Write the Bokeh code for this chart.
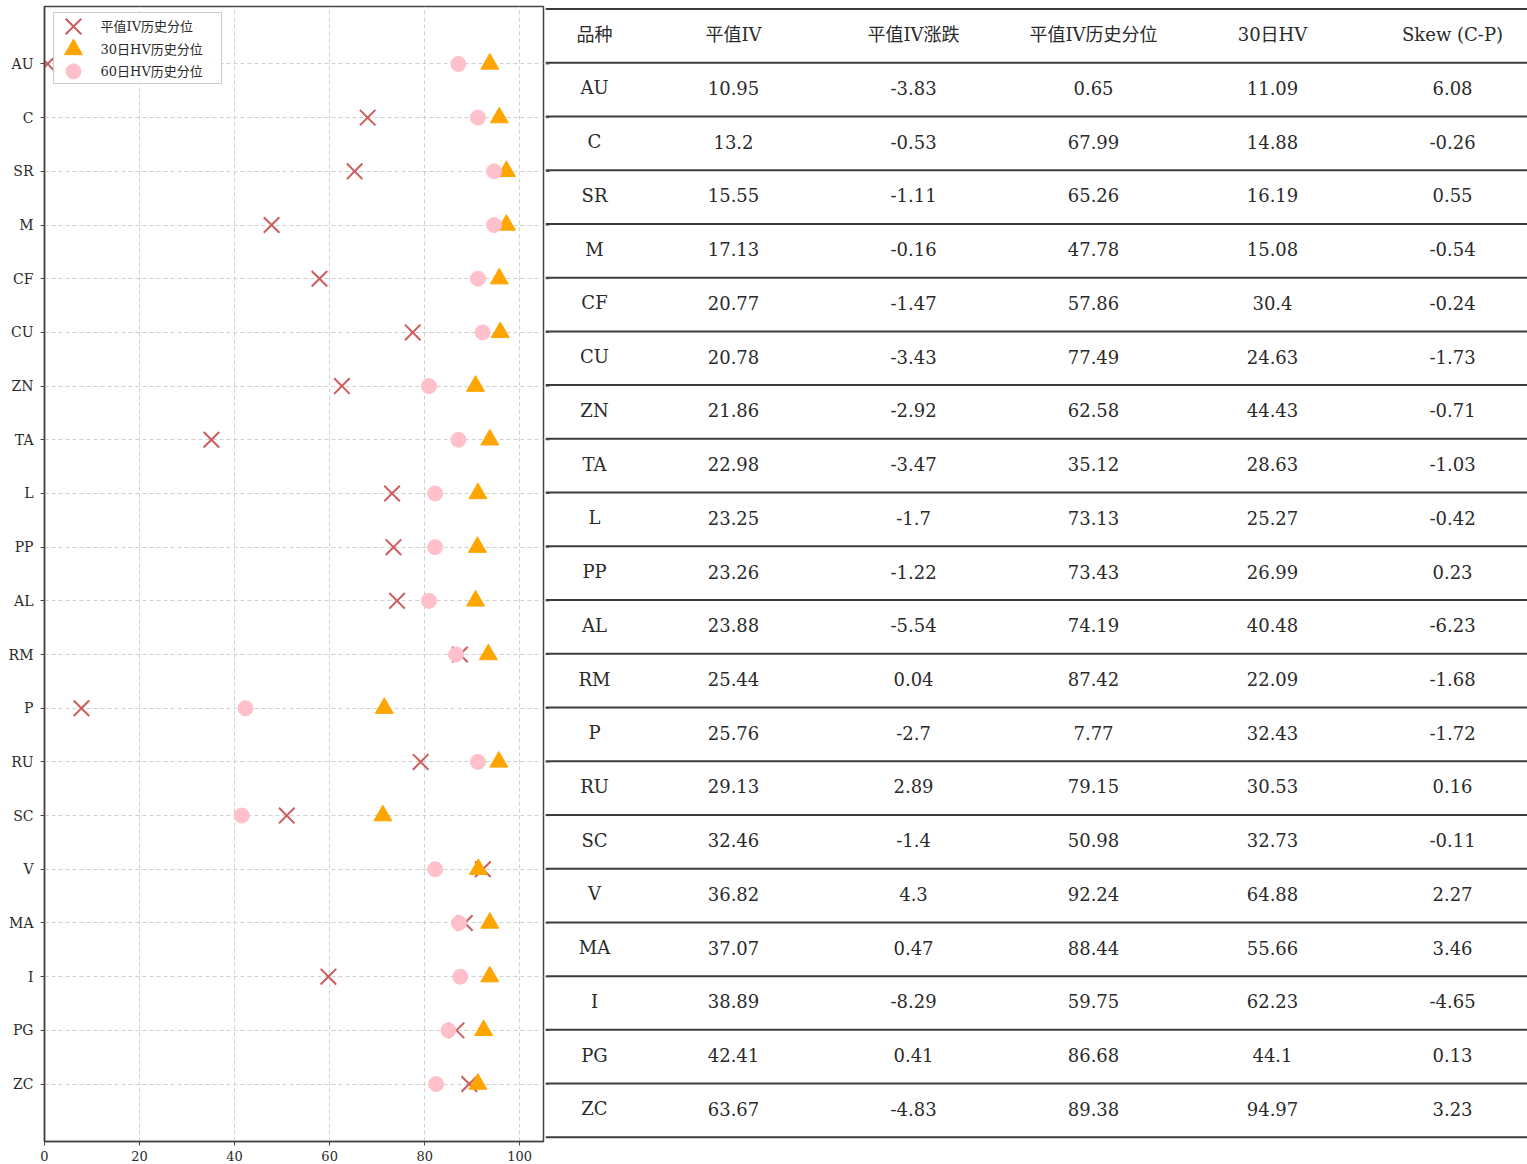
from bokeh.plotting import figure
from bokeh.models import FactorRange, Range1d, FixedTicker, ColumnDataSource
from bokeh.layouts import row
from bokeh.core.properties import value
from bokeh.embed import file_html
from bokeh.resources import INLINE

# ---------------- data ----------------
varieties = ["AU", "C", "SR", "M", "CF", "CU", "ZN", "TA", "L", "PP",
             "AL", "RM", "P", "RU", "SC", "V", "MA", "I", "PG", "ZC"]
atm_iv = [10.95, 13.2, 15.55, 17.13, 20.77, 20.78, 21.86, 22.98, 23.25, 23.26,
          23.88, 25.44, 25.76, 29.13, 32.46, 36.82, 37.07, 38.89, 42.41, 63.67]
iv_chg = [-3.83, -0.53, -1.11, -0.16, -1.47, -3.43, -2.92, -3.47, -1.7, -1.22,
          -5.54, 0.04, -2.7, 2.89, -1.4, 4.3, 0.47, -8.29, 0.41, -4.83]
iv_pct = [0.65, 67.99, 65.26, 47.78, 57.86, 77.49, 62.58, 35.12, 73.13, 73.43,
          74.19, 87.42, 7.77, 79.15, 50.98, 92.24, 88.44, 59.75, 86.68, 89.38]
hv30 = [11.09, 14.88, 16.19, 15.08, 30.4, 24.63, 44.43, 28.63, 25.27, 26.99,
        40.48, 22.09, 32.43, 30.53, 32.73, 64.88, 55.66, 62.23, 44.1, 94.97]
skew = [6.08, -0.26, 0.55, -0.54, -0.24, -1.73, -0.71, -1.03, -0.42, 0.23,
        -6.23, -1.68, -1.72, 0.16, -0.11, 2.27, 3.46, -4.65, 0.13, 3.23]
hv30_pct = [93.7, 95.7, 97.2, 97.2, 95.7, 95.9, 90.7, 93.7, 91.2, 91.1,
            90.7, 93.4, 71.5, 95.6, 71.2, 91.3, 93.7, 93.7, 92.4, 91.2]
hv60_pct = [87.1, 91.2, 94.6, 94.6, 91.2, 92.2, 80.9, 87.1, 82.2, 82.2,
            80.9, 86.6, 42.3, 91.2, 41.5, 82.2, 87.2, 87.5, 85.0, 82.4]
x_ticks = [0, 20, 40, 60, 80, 100]
table_headers = ["品种", "平值IV", "平值IV涨跌", "平值IV历史分位", "30日HV", "Skew (C-P)"]
legend_labels = ["平值IV历史分位", "30日HV历史分位", "60日HV历史分位"]

FONT = "DejaVu Serif, Noto Sans CJK SC"
TXT = "#2a2a2a"
AX = "#444444"
H = 1164

# layout geometry (page pixels)
F_LEFT, F_RIGHT, F_TOP, F_BOT = 44, 543, 6, 1141
X_MAX = 105
PAD = 0.57
NF = len(varieties)


def px_x(px):
    return (px - F_LEFT) / (F_RIGHT - F_LEFT) * X_MAX


def px_y(py):
    return (NF + PAD) - (py - F_TOP) / (F_BOT - F_TOP) * (NF + 2 * PAD)


def syn_to_py(s):
    return F_TOP + (NF + PAD - s) / (NF + 2 * PAD) * (F_BOT - F_TOP)


# ---------------- scatter plot ----------------
W_LEFT = F_RIGHT + 2
src = ColumnDataSource(dict(v=varieties, iv=iv_pct, h30=hv30_pct, h60=hv60_pct))
yr = FactorRange(factors=list(reversed(varieties)), range_padding=PAD,
                 range_padding_units="absolute")
p = figure(width=W_LEFT, height=H, y_range=yr, x_range=Range1d(0, X_MAX),
           output_backend="svg", toolbar_location=None,
           min_border_left=F_LEFT, min_border_right=W_LEFT - F_RIGHT,
           min_border_top=F_TOP, min_border_bottom=H - F_BOT)
p.outline_line_color = AX
p.outline_line_width = 1.5

marker_styles = [
    dict(marker="x", size=22, line_width=2, line_color="indianred", fill_color=None),
    dict(marker="triangle", size=18, line_width=1, fill_color="orange", line_color="orange"),
    dict(marker="circle", size=15, line_width=1, fill_color="pink", line_color="pink"),
]
for col, st in zip(["iv", "h30", "h60"], marker_styles):
    p.scatter(x=col, y="v", source=src, **st)

p.xaxis.ticker = FixedTicker(ticks=x_ticks)
for ax in (p.xaxis[0], p.yaxis[0]):
    ax.axis_line_color = AX
    ax.axis_line_width = 1.5
    ax.major_tick_line_color = AX
    ax.major_tick_out = 4
    ax.major_tick_in = 0
    ax.minor_tick_line_color = None
    ax.major_label_text_font = FONT
    ax.major_label_text_color = TXT
p.xaxis.major_label_text_font_size = "13px"
p.xaxis.major_label_standoff = 5
p.yaxis.major_label_text_font_size = "14px"
p.yaxis.major_label_standoff = 7

p.grid.grid_line_color = "#cfcfcf"
p.grid.grid_line_dash = "4 3"
p.grid.grid_line_width = 1

# legend box (drawn on top of the data, as in the reference)
p.quad(left=px_x(53), right=px_x(221), top=px_y(12), bottom=px_y(83),
       fill_color="white", fill_alpha=0.85, line_color="#cccccc", line_width=1)
leg_py = [26, 49, 71]
for st, lab, py in zip(marker_styles, legend_labels, leg_py):
    p.scatter(x=[px_x(73)], y=[px_y(py)], **st)
p.text(x=[px_x(100)] * 3, y=[px_y(py) for py in leg_py], text=legend_labels,
       text_baseline="middle", text_align="left", text_font=value(FONT),
       text_font_size="13px", text_color=TXT)

# ---------------- table ----------------
T_LEFT = W_LEFT
TW = 1527 - T_LEFT
ROW0, ROWH = 8.5, 53.73
t = figure(width=TW, height=H, x_range=Range1d(0, TW),
           y_range=Range1d((F_BOT - ROW0) / ROWH, (F_TOP - ROW0) / ROWH),
           output_backend="svg", toolbar_location=None,
           min_border_left=0, min_border_right=0,
           min_border_top=F_TOP, min_border_bottom=H - F_BOT)
t.axis.visible = False
t.grid.visible = False
t.outline_line_color = None

n_rows = len(varieties) + 1
lines = list(range(n_rows + 1))
t.segment(x0=[0] * len(lines), x1=[TW] * len(lines), y0=lines, y1=lines,
          line_color="#3c3c3c", line_width=2)

# outward ticks of the scatter plot's right border
tick_rows = [(syn_to_py(NF - 0.5 - i) - ROW0) / ROWH for i in range(NF)]
t.segment(x0=[0] * NF, x1=[4] * NF, y0=tick_rows, y1=tick_rows,
          line_color=AX, line_width=1)

col_centers_px = [594, 733, 913, 1093, 1272, 1452]
columns = [varieties, atm_iv, iv_chg, iv_pct, hv30, skew]
for cpx, head, vals in zip(col_centers_px, table_headers, columns):
    texts = [head] + [str(v) for v in vals]
    ys = [k + 0.47 for k in range(n_rows)]
    t.text(x=[cpx - T_LEFT] * n_rows, y=ys, text=texts, text_align="center",
           text_baseline="middle", text_font=value(FONT), text_font_size="18px",
           text_color=TXT)

layout = row(p, t, spacing=0)
open("out.html", "w").write(file_html(layout, INLINE))
